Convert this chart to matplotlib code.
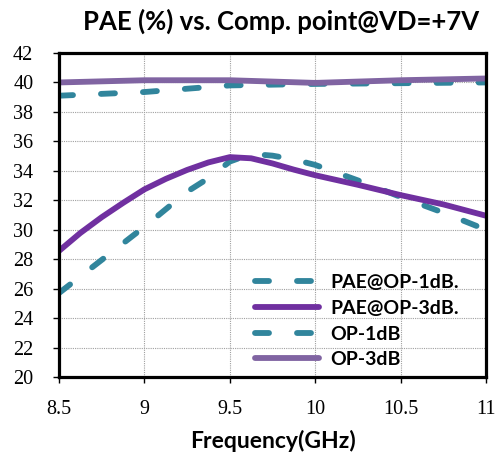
import matplotlib
matplotlib.use("Agg")
import matplotlib.pyplot as plt
from matplotlib import font_manager
from matplotlib.font_manager import FontProperties
from matplotlib.ticker import FixedLocator, FixedFormatter

_fonts = font_manager.fontManager.ttflist
_names = {f.name for f in _fonts}
sans = [n for n in ["Lato", "Open Sans", "DejaVu Sans"] if n in _names]


def _serif_file():
    for want in ["Liberation Serif", "DejaVu Serif", "Noto Serif"]:
        for f in _fonts:
            if f.name == want and f.style == "normal" and f.weight in (400, "normal", "regular"):
                return f.fname
    return None


_sf = _serif_file()
tick_fp = FontProperties(fname=_sf, size=14.5) if _sf else FontProperties(family="serif", size=14.5)

# Data
freq_p1 = [8.5, 8.75, 9.0, 9.25, 9.375, 9.5, 9.625, 9.75, 9.875, 10.0, 10.25, 10.5, 10.75, 11.0]
pae_op1 = [25.7, 27.95, 30.2, 32.58, 33.5, 34.63, 35.15, 35.03, 34.77, 34.4, 33.35, 32.23, 31.16, 30.0]

freq_p3 = [8.5, 8.625, 8.75, 8.875, 9.0, 9.125, 9.25, 9.375, 9.5, 9.625, 9.75, 9.875,
           10.0, 10.25, 10.5, 10.75, 11.0]
pae_op3 = [28.56, 29.78, 30.85, 31.82, 32.74, 33.45, 34.06, 34.57, 34.93, 34.85, 34.5, 34.08,
           33.7, 33.05, 32.35, 31.72, 30.95]

freq_op = [8.5, 9.0, 9.5, 10.0, 10.5, 11.0]
op1 = [39.1, 39.35, 39.8, 39.9, 39.95, 40.0]
op3 = [40.0, 40.15, 40.15, 39.97, 40.15, 40.27]

xticks = [8.5, 9, 9.5, 10, 10.5, 11]
xticklabels = ["8.5", "9", "9.5", "10", "10.5", "11"]
yticks = [20, 22, 24, 26, 28, 30, 32, 34, 36, 38, 40, 42]

teal = "#31859c"
purple_dark = "#7030a0"
purple_light = "#8064a2"

fig = plt.figure(figsize=(4.98, 4.59), dpi=100)
ax = fig.add_axes([59 / 498, 1 - 377 / 459, 427 / 498, 324 / 459])

lw = 4.2
dash = (2.4, 4.8)
l1, = ax.plot(freq_p1, pae_op1, color=teal, lw=lw, dashes=dash,
              dash_capstyle="round", solid_capstyle="round", label="PAE@OP-1dB.")
l2, = ax.plot(freq_p3, pae_op3, color=purple_dark, lw=lw,
              solid_capstyle="round", solid_joinstyle="round", label="PAE@OP-3dB.")
l3, = ax.plot(freq_op, op1, color=teal, lw=lw, dashes=dash,
              dash_capstyle="round", label="OP-1dB")
l4, = ax.plot(freq_op, op3, color=purple_light, lw=lw,
              solid_capstyle="round", solid_joinstyle="round", label="OP-3dB")

ax.set_xlim(8.5, 11)
ax.set_ylim(20, 42)
ax.xaxis.set_major_locator(FixedLocator(xticks))
ax.xaxis.set_major_formatter(FixedFormatter(xticklabels))
ax.set_yticks(yticks)
ax.grid(True, color="#a0a0a0", linestyle=(0, (1, 1)), linewidth=0.8)
ax.set_axisbelow(True)

for s in ax.spines.values():
    s.set_linewidth(2.3)
    s.set_color("black")

ax.tick_params(axis="both", direction="out", length=4.5, width=1, colors="black",
               labelsize=14.5)
ax.tick_params(axis="y", pad=14)
ax.tick_params(axis="x", pad=12)

ax.set_xlabel("Frequency(GHz)", fontsize=16.5, fontweight="bold", family=sans)
ax.xaxis.set_label_coords(0.5, (377 - 441) / 324)
ax.xaxis.label.set_va("center")

fig.text(0.565, 0.953, "PAE (%) vs. Comp. point@VD=+7V", ha="center", va="center",
         fontsize=18.5, fontweight="bold", family=sans)

leg = ax.legend(handles=[l1, l2, l3, l4], loc="upper left",
                bbox_to_anchor=((255 - 59) / 427, (377 - 274) / 324),
                frameon=False, handlelength=3.3, borderpad=0, borderaxespad=0,
                handletextpad=0.57, labelspacing=0.45,
                prop={"family": sans, "weight": "bold", "size": 14})

fig.canvas.draw()
for lab in ax.get_xticklabels() + ax.get_yticklabels():
    lab.set_fontproperties(tick_fp)

fig.savefig("out.png", dpi=100)
